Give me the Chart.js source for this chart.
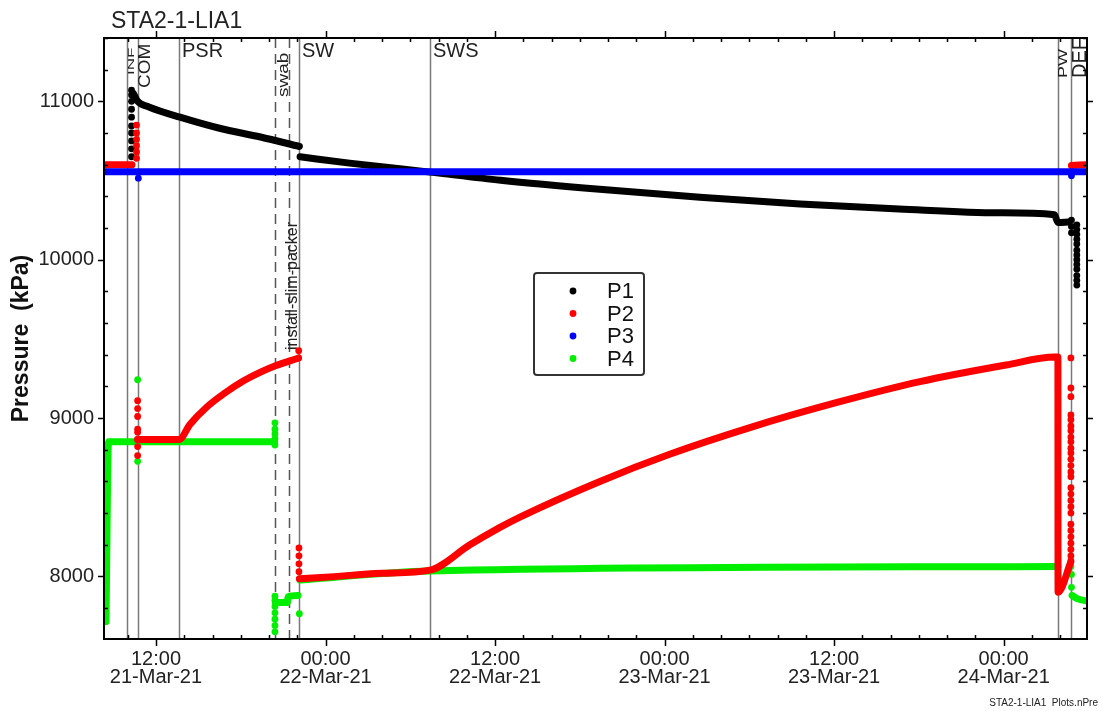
<!DOCTYPE html>
<html lang="en">
<head>
  <meta charset="UTF-8">
  <title>STA2-1-LIA1</title>
  <script src="https://cdn.jsdelivr.net/npm/chart.js"></script>
  <style>
    html, body { margin: 0; padding: 0; background: #fff; }
    #wrap { width: 1102px; height: 711px; }
  </style>
</head>
<body>
  <div id="wrap"><canvas id="pressureChart" width="1102" height="711"></canvas></div>

  <script>
    // x values are hours counted from 21-Mar-21 00:00
    const xTickHours = [12, 24, 36, 48, 60, 72];
    const xTickTimes = ['12:00', '00:00', '12:00', '00:00', '12:00', '00:00'];
    const xTickDates = ['21-Mar-21', '22-Mar-21', '22-Mar-21', '23-Mar-21', '23-Mar-21', '24-Mar-21'];
    const yTickLabels = [8000, 9000, 10000, 11000];

    // test events (vertical markers)
    const eventNames = ['INF', 'COM', 'PSR', 'swab', 'install-slim-packer', 'SW', 'SWS', 'PW', 'DEF'];
    const eventHours = [9.95, 10.70, 13.63, 20.42, 21.45, 22.12, 31.39, 75.84, 76.76];
    const eventDashed = [false, false, false, true, true, false, false, false, false];

    // P1
    const p1Hours = [10.40, 10.70, 11.50, 13.70, 16.50, 19.40, 22.15, 22.17, 22.20, 25.70, 31.40, 36.40, 43.40, 50.50, 57.60, 64.60, 71.70, 75.60, 75.84, 76.60];
    const p1Kpa   = [11050, 11000, 10965, 10900, 10830, 10775, 10715, null, 10650, 10610, 10553, 10502, 10445, 10395, 10352, 10320, 10296, 10284, 10235, 10238];
    const p1DotHours = [10.27, 10.27, 10.27, 10.27, 10.27, 10.27, 10.27, 10.27, 10.27, 10.27,
                        76.80, 76.80, 76.80,
                        77.18, 77.18, 77.18, 77.18, 77.18, 77.18, 77.18, 77.18, 77.18, 77.18, 77.18, 77.18, 77.18];
    const p1DotKpa   = [11070, 11040, 11000, 10950, 10900, 10845, 10800, 10750, 10700, 10650,
                        10250, 10210, 10170,
                        10220, 10190, 10160, 10130, 10100, 10060, 10030, 10000, 9970, 9940, 9900, 9870, 9840];

    // P2
    const p2Hours = [8.32, 10.30, 10.31, 10.70, 13.63, 14.40, 15.60, 16.90, 18.00, 19.40, 20.50, 22.05, 22.10,
                     22.15, 24.00, 28.00, 31.39, 34.22, 36.35, 37.76, 43.42, 48.31, 54.04, 60.27, 66.07, 72.16, 75.62,
                     75.84, 75.85, 76.75, 76.76, 76.80, 77.90];
    const p2Kpa   = [10600, 10600, null, 8864, 8864, 8960, 9070, 9160, 9225, 9290, 9332, 9378, null,
                     7985, 7995, 8020, 8040, 8200, 8310, 8375, 8600, 8770, 8940, 9100, 9230, 9335, 9385,
                     9385, 7900, 8090, null, 10595, 10600];
    const p2DotHours = [10.62, 10.62, 10.62, 10.62, 10.62, 10.62,
                        10.70, 10.70, 10.70, 10.70, 10.70, 10.70, 10.70, 10.70,
                        22.10, 22.10, 22.12, 22.12, 22.12, 22.12,
                        76.76, 76.76, 76.76, 76.76, 76.76, 76.76, 76.76, 76.76, 76.76, 76.76, 76.76, 76.76, 76.76, 76.76,
                        76.76, 76.76, 76.76, 76.76, 76.76, 76.76, 76.76, 76.76, 76.76, 76.76, 76.76, 76.76, 76.76];
    const p2DotKpa   = [10850, 10800, 10760, 10720, 10680, 10640,
                        9110, 9060, 9010, 8930, 8910, 8866, 8820, 8763,
                        9425, 9380, 8180, 8130, 8080, 8030,
                        9380, 9190, 9135, 9020, 8990, 8950, 8920, 8880, 8850, 8810, 8780, 8740, 8700, 8660,
                        8630, 8560, 8520, 8480, 8440, 8400, 8330, 8290, 8250, 8210, 8170, 8130, 8100];

    // P3
    const p3Hours = [8.32, 77.90];
    const p3Kpa   = [10555, 10555];
    const p3DotHours = [10.75, 76.80];
    const p3DotKpa   = [10515, 10530];

    // P4
    const p4Hours = [8.46, 8.64, 20.40, 20.41, 20.45, 21.30, 21.35, 22.05, 22.10, 22.20, 31.39, 75.84, 75.85, 76.85, 77.20, 77.90];
    const p4Kpa   = [7715, 8850, 8850, null, 7836, 7836, 7872, 7880, null, 7978, 8035, 8063, null, 7880, 7860, 7845];
    const p4DotHours = [10.70, 10.70,
                        20.42, 20.42, 20.42, 20.42, 20.42, 20.42, 20.42, 20.42, 20.42, 20.42, 20.42, 20.42,
                        22.15, 76.76, 76.80, 76.80];
    const p4DotKpa   = [9242, 8727,
                        8970, 8930, 8900, 8870, 8830, 7650, 7690, 7730, 7770, 7810, 7850, 7875,
                        7765, 8063, 8013, 7931];

    const FONT = '"Liberation Sans", Arial, Helvetica, sans-serif';

    const pts = (hs, vs) => hs.map((h, i) => ({ x: h, y: vs[i] }));

    const series = [
      { label: 'P1', color: '#000000', hours: p1Hours, kpa: p1Kpa, dotHours: p1DotHours, dotKpa: p1DotKpa, order: 2 },
      { label: 'P2', color: '#ff0000', hours: p2Hours, kpa: p2Kpa, dotHours: p2DotHours, dotKpa: p2DotKpa, order: 1 },
      { label: 'P3', color: '#0000ff', hours: p3Hours, kpa: p3Kpa, dotHours: p3DotHours, dotKpa: p3DotKpa, order: 0 },
      { label: 'P4', color: '#00ee00', hours: p4Hours, kpa: p4Kpa, dotHours: p4DotHours, dotKpa: p4DotKpa, order: 3 }
    ];

    const datasets = [];
    series.forEach(s => {
      datasets.push({
        label: s.label,
        data: pts(s.hours, s.kpa),
        borderColor: s.color,
        backgroundColor: s.color,
        borderWidth: 7,
        borderCapStyle: 'round',
        borderJoinStyle: 'round',
        pointRadius: 0,
        spanGaps: false,
        cubicInterpolationMode: 'monotone',
        clip: 0,
        order: s.order
      });
      datasets.push({
        label: s.label + ' dots',
        data: pts(s.dotHours, s.dotKpa),
        showLine: false,
        pointRadius: 3.4,
        pointBorderWidth: 0,
        pointBackgroundColor: s.color,
        borderColor: s.color,
        clip: 0,
        order: s.order
      });
    });

    // label placement for the event markers
    const eventLabelStyle = {
      'INF':  { rotate: true, size: 17, squash: 0.55, dx: 0, y: 75 },
      'COM':  { rotate: true, size: 19, squash: 0.9, dx: 0.5, y: 88 },
      'PSR':  { rotate: false, size: 20, dx: 3, y: 57 },
      'swab': { rotate: true, size: 19, squash: 0.8, dx: 2, y: 97 },
      'install-slim-packer': { rotate: true, size: 16, squash: 1, dx: -4.5, y: 350, ascender: true },
      'SW':   { rotate: false, size: 20, dx: 3, y: 57 },
      'SWS':  { rotate: false, size: 20, dx: 3, y: 57 },
      'PW':   { rotate: true, size: 18, squash: 0.7, dx: 0.5, y: 78 },
      'DEF':  { rotate: true, size: 20, squash: 1, dx: 0.5, y: 78 }
    };

    const eventPlugin = {
      id: 'events',
      beforeDatasetsDraw(chart) {
        const { ctx, chartArea: a, scales: { x } } = chart;
        ctx.save();
        eventHours.forEach((h, i) => {
          const px = Math.round(x.getPixelForValue(h)) + 0.5;
          ctx.beginPath();
          ctx.lineWidth = 1.5;
          ctx.strokeStyle = eventDashed[i] ? '#555555' : '#7a7a7a';
          ctx.setLineDash(eventDashed[i] ? [10, 6] : []);
          ctx.moveTo(px, a.top);
          ctx.lineTo(px, a.bottom);
          ctx.stroke();
        });
        ctx.setLineDash([]);
        ctx.fillStyle = '#222222';
        eventHours.forEach((h, i) => {
          const st = eventLabelStyle[eventNames[i]];
          const px = x.getPixelForValue(h) + st.dx;
          ctx.font = st.size + 'px ' + FONT;
          ctx.textAlign = 'left';
          ctx.textBaseline = 'alphabetic';
          if (st.rotate) {
            const lift = st.size * (st.ascender ? 0.73 : 0.72);
            ctx.save();
            ctx.translate(px, st.y);
            ctx.rotate(-Math.PI / 2);
            ctx.scale(1, st.squash);
            ctx.fillText(eventNames[i], 0, lift);
            ctx.restore();
          } else {
            ctx.fillText(eventNames[i], px, st.y);
          }
        });
        ctx.restore();
      }
    };

    const framePlugin = {
      id: 'frame',
      afterDatasetsDraw(chart) {
        const { ctx, chartArea: a, scales: { x, y } } = chart;
        ctx.save();
        ctx.strokeStyle = '#000';
        ctx.lineWidth = 2;
        ctx.strokeRect(a.left, a.top, a.right - a.left, a.bottom - a.top);
        ctx.lineWidth = 1.5;
        ctx.beginPath();
        x.ticks.forEach(t => {
          const px = Math.round(x.getPixelForValue(t.value)) + 0.5;
          if (xTickHours.includes(t.value)) {
            ctx.moveTo(px, a.bottom); ctx.lineTo(px, a.bottom + 7);
            ctx.moveTo(px, a.top); ctx.lineTo(px, a.top - 7);
          } else {
            ctx.moveTo(px, a.bottom); ctx.lineTo(px, a.bottom - 4);
            ctx.moveTo(px, a.top); ctx.lineTo(px, a.top + 4);
          }
        });
        y.ticks.forEach(t => {
          const py = Math.round(y.getPixelForValue(t.value)) + 0.5;
          if (yTickLabels.includes(t.value)) {
            ctx.moveTo(a.left, py); ctx.lineTo(a.left - 6, py);
            ctx.moveTo(a.right, py); ctx.lineTo(a.right + 6, py);
          } else {
            ctx.moveTo(a.left, py); ctx.lineTo(a.left + 4, py);
            ctx.moveTo(a.right, py); ctx.lineTo(a.right - 4, py);
          }
        });
        ctx.stroke();

        // title and footer
        ctx.fillStyle = '#222';
        ctx.textAlign = 'left';
        ctx.textBaseline = 'alphabetic';
        ctx.font = '23px ' + FONT;
        ctx.fillText('STA2-1-LIA1', 111, 28);
        ctx.font = '10px ' + FONT;
        ctx.textAlign = 'right';
        ctx.fillText('STA2-1-LIA1  Plots.nPre', 1098, 706);

        // legend
        const box = { left: 534, top: 273, w: 110, h: 102 };
        ctx.lineWidth = 2;
        ctx.strokeStyle = '#333';
        ctx.fillStyle = '#fff';
        ctx.beginPath();
        ctx.roundRect(box.left, box.top, box.w, box.h, 3);
        ctx.fill();
        ctx.stroke();
        ctx.font = '22px ' + FONT;
        ctx.textAlign = 'left';
        ctx.textBaseline = 'middle';
        series.forEach((s, i) => {
          const cy = box.top + 18 + i * 22.5;
          ctx.fillStyle = s.color;
          ctx.beginPath();
          ctx.arc(box.left + 39, cy, 3.4, 0, Math.PI * 2);
          ctx.fill();
          ctx.fillStyle = '#111';
          ctx.fillText(s.label, box.left + 73, cy + 1);
        });
        ctx.restore();
      }
    };

    new Chart(document.getElementById('pressureChart'), {
      type: 'line',
      data: { datasets: datasets },
      options: {
        responsive: false,
        animation: false,
        events: [],
        layout: { padding: { left: 0, right: 15, top: 38, bottom: 0 } },
        plugins: {
          legend: { display: false },
          tooltip: { enabled: false },
          title: { display: false }
        },
        scales: {
          x: {
            type: 'linear',
            min: 8.32,
            max: 77.9,
            afterBuildTicks: s => {
              const ticks = [];
              for (let h = 10; h <= 76; h += 2) ticks.push({ value: h });
              s.ticks = ticks;
            },
            afterFit: s => { s.height = 72; },
            grid: { display: false, drawTicks: false },
            border: { display: false },
            ticks: {
              autoSkip: false,
              maxRotation: 0,
              padding: 12,
              color: '#222',
              font: { size: 20, family: FONT, lineHeight: 0.88 },
              callback: v => {
                const i = xTickHours.indexOf(v);
                return i < 0 ? '' : [xTickTimes[i], xTickDates[i]];
              }
            }
          },
          y: {
            type: 'linear',
            min: 7605,
            max: 11400,
            afterBuildTicks: s => {
              const ticks = [];
              for (let v = 7800; v <= 11400; v += 200) ticks.push({ value: v });
              s.ticks = ticks;
            },
            afterFit: s => { s.width = 104; },
            grid: { display: false, drawTicks: false },
            border: { display: false },
            ticks: {
              autoSkip: false,
              padding: 10,
              color: '#222',
              font: { size: 20, family: FONT },
              callback: v => (yTickLabels.includes(v) ? String(v) : '')
            },
            title: {
              display: true,
              text: 'Pressure  (kPa)',
              color: '#111',
              font: { size: 23, weight: 'bold', family: FONT },
              padding: { top: 8, bottom: 0 }
            }
          }
        }
      },
      plugins: [eventPlugin, framePlugin]
    });
  </script>
</body>
</html>
